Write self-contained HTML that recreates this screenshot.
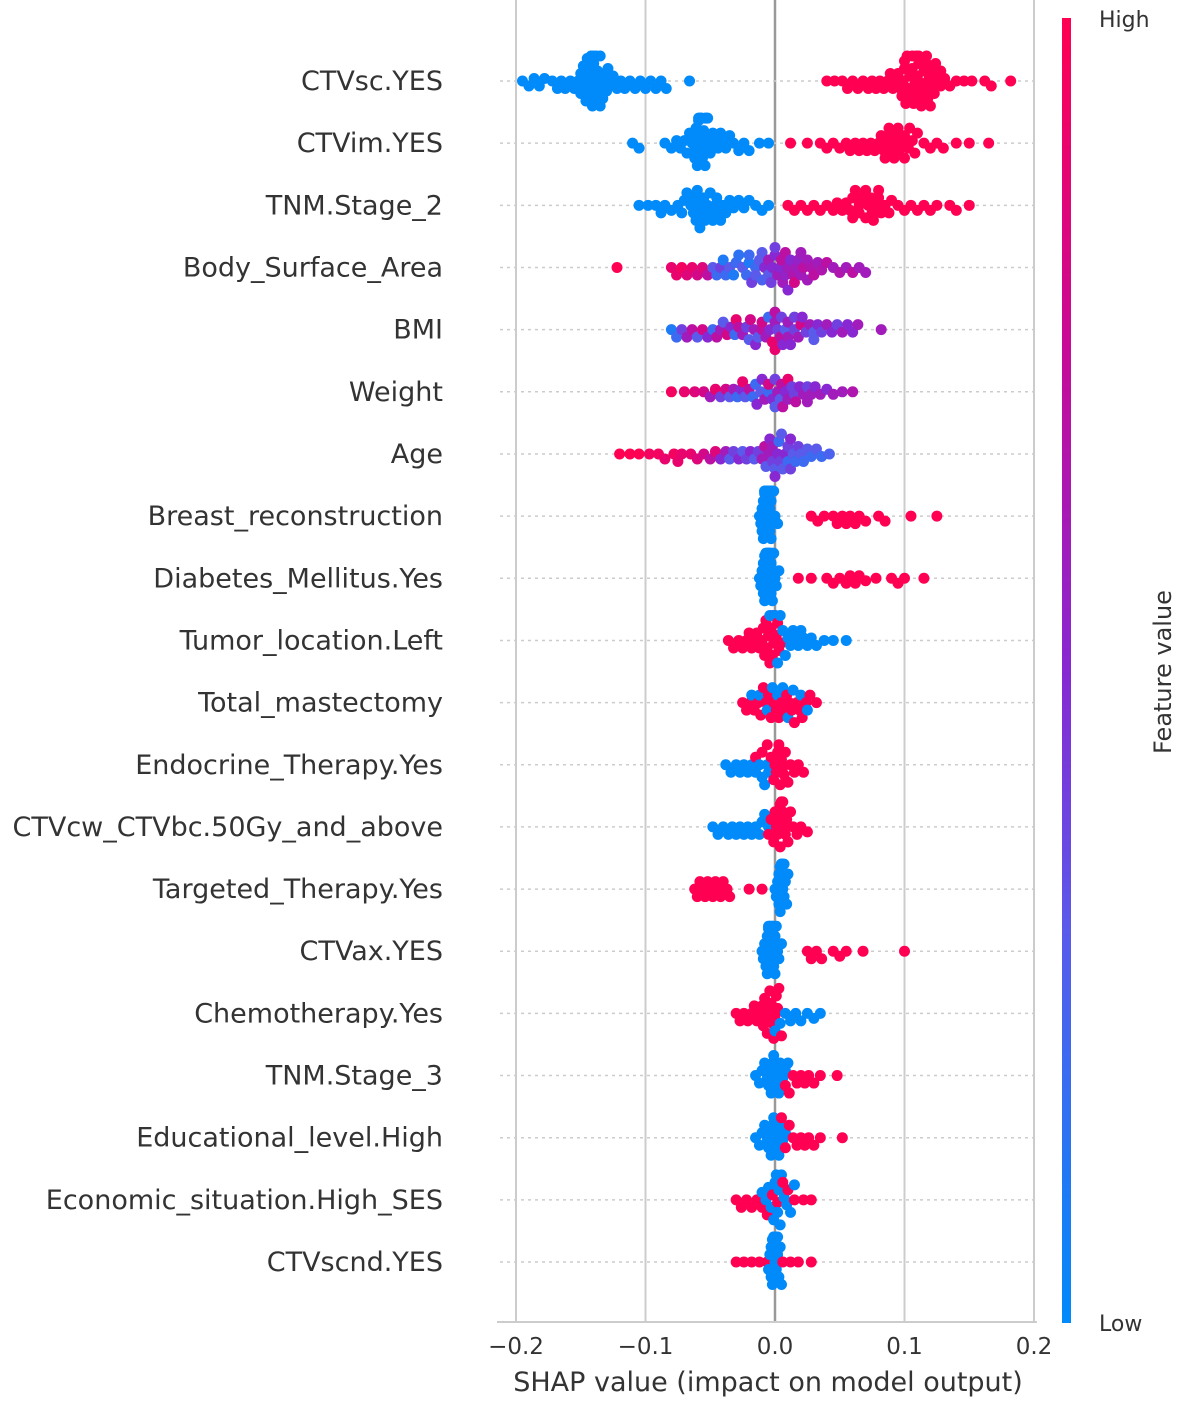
<!DOCTYPE html>
<html><head><meta charset="utf-8">
<style>
html,body{margin:0;padding:0;background:#fff;}
svg{display:block;font-family:"DejaVu Sans","Liberation Sans",sans-serif;}
</style></head>
<body>
<svg id="chart" width="1181" height="1405" viewBox="0 0 1181 1405" xmlns="http://www.w3.org/2000/svg">
<defs>
<linearGradient id="cbar" x1="0" y1="1" x2="0" y2="0">
<stop offset="0" stop-color="rgb(0,138,250)"/>
<stop offset="0.3" stop-color="rgb(90,90,235)"/>
<stop offset="0.5" stop-color="rgb(135,40,210)"/>
<stop offset="0.75" stop-color="rgb(200,10,150)"/>
<stop offset="1" stop-color="rgb(255,0,82)"/>
</linearGradient>
</defs>
<g id="grid"></g>
<g id="rows"></g>
<g id="dots"></g>
<g id="axis"></g>
<rect x="1062" y="18" width="9" height="1305" fill="url(#cbar)"/>
<text x="1099" y="27" font-size="22" fill="#333">High</text>
<text x="1099" y="1331" font-size="22" fill="#333">Low</text>
<text x="0" y="0" font-size="24" fill="#333" text-anchor="middle" transform="translate(1171,672) rotate(-90)">Feature value</text>
<text x="768" y="1391" font-size="27" fill="#333" text-anchor="middle">SHAP value (impact on model output)</text>
</svg>
<script>
const features = ["CTVsc.YES","CTVim.YES","TNM.Stage_2","Body_Surface_Area","BMI","Weight","Age","Breast_reconstruction","Diabetes_Mellitus.Yes","Tumor_location.Left","Total_mastectomy","Endocrine_Therapy.Yes","CTVcw_CTVbc.50Gy_and_above","Targeted_Therapy.Yes","CTVax.YES","Chemotherapy.Yes","TNM.Stage_3","Educational_level.High","Economic_situation.High_SES","CTVscnd.YES"];
const xTicks = [-0.2,-0.1,0.0,0.1,0.2];
const xTickLabels = ["\u22120.2","\u22120.1","0.0","0.1","0.2"];
// SHAP values (thousandths) per feature row
const shapValues = [
[-195,-190,-186,-182,-178,-172,-168,-165,-162,-158,-155,-152,-150,-148,-146,-145,-144,-142,-141,-140,-139,-138,-136,-135,-133,-131,-129,-127,-125,-122,-119,-116,-112,-108,-104,-100,-96,-92,-88,-84,-66,-147,-143,-141,-139,-137,-134,-130,-150,-145,-140,-135,40,46,52,56,60,64,68,72,75,78,81,84,87,89,91,93,95,97,99,100,101,103,104,106,107,109,110,111,113,114,116,117,119,121,123,125,128,131,135,140,146,152,162,167,182,98,102,105,108,110,112,115,118,120,124,100,106,111,117,122,128],
[-110,-105,-85,-80,-76,-73,-70,-68,-66,-64,-62,-61,-60,-59,-58,-57,-56,-55,-54,-53,-52,-51,-50,-48,-46,-44,-42,-40,-38,-35,-32,-28,-24,-20,-12,-5,-62,-60,-58,-56,-54,-57,-59,-53,12,25,35,40,45,50,55,58,62,65,68,71,74,77,80,82,84,86,88,90,92,94,96,98,100,103,106,110,115,120,125,130,140,150,165,85,88,92,95,100,104,108],
[-105,-98,-92,-88,-85,-80,-75,-72,-70,-68,-65,-63,-61,-60,-58,-56,-54,-52,-50,-48,-46,-44,-42,-40,-38,-35,-32,-28,-24,-20,-15,-10,-5,-62,-58,-55,-50,-45,10,15,20,25,30,35,40,45,48,52,55,58,60,62,65,67,70,72,74,76,78,80,82,85,88,90,95,100,105,110,115,120,125,135,140,150,60,65,70,75,80],
[-122,-80,-76,-72,-68,-64,-60,-56,-52,-48,-45,-42,-40,-38,-35,-32,-30,-28,-25,-22,-20,-18,-15,-12,-10,-8,-5,-3,0,2,4,6,8,10,12,14,16,18,20,22,25,28,30,33,36,40,45,50,55,60,65,70,-20,-10,-5,0,5,10,15,20,-15,-2,8,25],
[-80,-76,-72,-68,-64,-60,-56,-52,-48,-45,-42,-40,-37,-34,-31,-28,-25,-22,-19,-16,-13,-10,-7,-4,-2,0,2,4,6,8,10,12,15,18,21,24,27,30,33,36,40,44,48,52,56,60,64,82,-30,-20,-10,-5,0,5,10,20,30,-15,0,15],
[-80,-70,-62,-55,-50,-46,-42,-38,-35,-32,-29,-26,-23,-20,-17,-14,-11,-8,-5,-2,0,2,4,6,8,10,13,16,19,22,25,28,31,35,40,45,52,60,-25,-15,-5,0,5,15,25,-10,10],
[-120,-112,-105,-97,-90,-85,-78,-75,-72,-65,-60,-55,-50,-46,-42,-38,-35,-32,-28,-25,-22,-19,-16,-13,-10,-7,-4,-2,0,2,4,6,8,10,12,14,16,18,20,22,25,28,32,36,42,-5,0,5,10,-8,3,12,-2],
[-12,-11,-10,-10,-9,-9,-8,-8,-8,-7,-7,-7,-6,-6,-6,-6,-5,-5,-5,-5,-4,-4,-4,-4,-3,-3,-3,-2,-2,-1,0,2,28,33,38,45,48,52,55,58,62,65,70,80,85,105,125],
[-12,-11,-10,-9,-9,-8,-8,-7,-7,-6,-6,-6,-5,-5,-5,-5,-4,-4,-4,-3,-3,-3,-2,-2,-1,0,1,3,18,28,40,45,50,55,58,62,65,70,78,90,95,100,115],
[-36,-32,-28,-25,-22,-20,-18,-16,-14,-12,-10,-9,-8,-7,-6,-5,-4,-3,-2,-1,0,1,2,3,5,-4,-2,0,2,4,6,8,10,12,14,16,18,20,22,25,28,32,38,45,55],
[-25,-22,-19,-16,-13,-11,-9,-7,-5,-3,-1,1,3,5,7,9,11,13,15,17,19,21,24,27,32,-18,-12,-6,-2,2,6,10,14,20,25],
[-38,-34,-30,-27,-24,-21,-18,-15,-12,-10,-8,-6,-5,-15,-10,-6,-3,-1,0,1,2,3,4,5,6,7,8,10,12,15,18,22],
[-48,-44,-40,-36,-33,-30,-27,-24,-21,-18,-15,-12,-10,-8,-5,-5,-3,-1,0,1,2,3,4,4,5,5,6,6,7,8,9,10,12,14,17,20,25],
[-62,-60,-58,-56,-54,-52,-50,-48,-46,-44,-42,-40,-37,-35,-20,-10,0,1,2,3,3,4,4,5,5,5,6,6,7,7,8,9,10],
[-10,-9,-8,-7,-6,-6,-5,-5,-4,-4,-3,-3,-2,-2,-1,-1,0,0,1,2,3,5,25,28,32,36,45,50,55,68,100],
[-30,-27,-24,-21,-18,-16,-14,-12,-10,-9,-8,-7,-6,-5,-4,-3,-2,-1,0,1,2,3,5,0,4,8,12,16,20,25,30,35],
[-15,-12,-10,-8,-6,-5,-4,-3,-2,-1,0,1,2,3,4,6,8,10,8,11,14,17,20,23,26,30,35,48],
[-15,-12,-10,-8,-6,-5,-4,-3,-2,-1,0,1,2,3,4,6,8,5,8,11,14,17,20,23,26,30,35,52],
[-30,-26,-22,-18,-14,-10,-6,-2,2,6,10,15,22,28,-10,-7,-5,-3,-1,0,1,2,3,4,5,7,9,12,15],
[-5,-4,-3,-3,-2,-2,-1,-1,0,0,0,1,1,2,2,3,4,5,-30,-24,-18,-12,-6,6,12,18,28]
];
// Feature values (0 = low, 1 = high) per point, parallel to shapValues
const featureValues = [
[0,0,0,0,0,0,0,0,0,0,0,0,0,0,0,0,0,0,0,0,0,0,0,0,0,0,0,0,0,0,0,0,0,0,0,0,0,0,0,0,0,0,0,0,0,0,0,0,0,0,0,0,1,1,1,1,1,1,1,1,1,1,1,1,1,1,1,1,1,1,1,1,1,1,1,1,1,1,1,1,1,1,1,1,1,1,1,1,1,1,1,1,1,1,1,1,1,1,1,1,1,1,1,1,1,1,1,1,1,1,1,1,1,1,1],
[0,0,0,0,0,0,0,0,0,0,0,0,0,0,0,0,0,0,0,0,0,0,0,0,0,0,0,0,0,0,0,0,0,0,0,0,0,0,0,0,0,0,0,0,1,1,1,1,1,1,1,1,1,1,1,1,1,1,1,1,1,1,1,1,1,1,1,1,1,1,1,1,1,1,1,1,1,1,1,1,1,1,1,1,1,1],
[0,0,0,0,0,0,0,0,0,0,0,0,0,0,0,0,0,0,0,0,0,0,0,0,0,0,0,0,0,0,0,0,0,0,0,0,0,0,1,1,1,1,1,1,1,1,1,1,1,1,1,1,1,1,1,1,1,1,1,1,1,1,1,1,1,1,1,1,1,1,1,1,1,1,1,1,1,1,1],
[1,0.9,0.9,0.95,0.85,0.9,0.8,0.85,0.7,0.3,0.2,0.4,0.1,0.2,0.3,0.1,0.2,0.15,0.3,0.2,0.1,0.4,0.2,0.3,0.25,0.5,0.3,0.4,0.5,0.6,0.5,0.6,0.55,0.6,0.5,0.65,0.6,0.55,0.6,0.7,0.6,0.65,0.7,0.6,0.65,0.7,0.6,0.65,0.6,0.7,0.6,0.6,0.2,0.3,0.6,0.4,0.7,0.5,0.8,0.6,0.3,0.5,0.7,0.6],
[0.1,0.2,0.4,0.6,0.7,0.3,0.8,0.5,0.2,0.7,0.6,0.3,0.8,0.5,0.2,0.7,0.6,0.4,0.8,0.6,0.3,0.7,0.6,0.5,0.9,0.6,0.4,0.7,0.5,0.3,0.6,0.5,0.4,0.6,0.5,0.4,0.6,0.3,0.5,0.4,0.6,0.5,0.4,0.6,0.5,0.5,0.6,0.6,0.9,0.3,0.8,0.2,0.7,0.4,0.6,0.8,0.3,0.5,0.9,0.4],
[0.95,0.9,0.85,0.8,0.6,0.9,0.4,0.8,0.3,0.6,0.2,0.5,0.3,0.7,0.2,0.5,0.3,0.6,0.2,0.5,0.4,0.6,0.3,0.7,0.5,0.6,0.4,0.7,0.5,0.6,0.4,0.6,0.5,0.6,0.5,0.6,0.6,0.65,0.9,0.2,0.8,0.3,0.7,0.4,0.6,0.5,0.9],
[1,1,1,0.95,0.95,0.9,0.95,0.9,0.9,0.9,0.85,0.8,0.7,0.85,0.5,0.6,0.3,0.4,0.5,0.3,0.4,0.5,0.3,0.4,0.6,0.3,0.5,0.4,0.3,0.5,0.4,0.3,0.5,0.2,0.4,0.3,0.2,0.4,0.3,0.2,0.3,0.2,0.3,0.2,0.25,0.6,0.5,0.3,0.4,0.7,0.2,0.5,0.6],
[0,0,0,0,0,0,0,0,0,0,0,0,0,0,0,0,0,0,0,0,0,0,0,0,0,0,0,0,0,0,0,0,1,1,1,1,1,1,1,1,1,1,1,1,1,1,1],
[0,0,0,0,0,0,0,0,0,0,0,0,0,0,0,0,0,0,0,0,0,0,0,0,0,0,0,0,1,1,1,1,1,1,1,1,1,1,1,1,1,1,1],
[1,1,1,1,1,1,1,1,1,1,1,1,1,1,1,1,1,1,1,1,1,1,1,1,1,0,0,0,0,0,0,0,0,0,0,0,0,0,0,0,0,0,0,0,0],
[1,1,1,1,1,1,1,1,1,1,1,1,1,1,1,1,1,1,1,1,1,1,1,1,1,0,0,0,0,0,0,0,0,0,0],
[0,0,0,0,0,0,0,0,0,0,0,0,0,1,1,1,1,1,1,1,1,1,1,1,1,1,1,1,1,1,1,1],
[0,0,0,0,0,0,0,0,0,0,0,0,0,0,0,1,1,1,1,1,1,1,1,1,1,1,1,1,1,1,1,1,1,1,1,1,1],
[1,1,1,1,1,1,1,1,1,1,1,1,1,1,1,1,0,0,0,0,0,0,0,0,0,0,0,0,0,0,0,0,0],
[0,0,0,0,0,0,0,0,0,0,0,0,0,0,0,0,0,0,0,0,0,0,1,1,1,1,1,1,1,1,1],
[1,1,1,1,1,1,1,1,1,1,1,1,1,1,1,1,1,1,1,1,1,1,1,0,0,0,0,0,0,0,0,0],
[0,0,0,0,0,0,0,0,0,0,0,0,0,0,0,0,0,0,1,1,1,1,1,1,1,1,1,1],
[0,0,0,0,0,0,0,0,0,0,0,0,0,0,0,0,0,1,1,1,1,1,1,1,1,1,1,1],
[1,1,1,1,1,1,1,1,1,1,1,1,1,1,0,0,0,0,0,0,0,0,0,0,0,0,0,0,0],
[0,0,0,0,0,0,0,0,0,0,0,0,0,0,0,0,0,0,1,1,1,1,1,1,1,1,1]
];

const NS="http://www.w3.org/2000/svg";
const x0=775, pxPerUnit=1295;
const xScale=v=>x0+v*pxPerUnit;
const rowTop=81, rowStep=62.16;
const yScale=i=>rowTop+i*rowStep;
const axisY=1322;
function mk(tag,attrs,parent){const e=document.createElementNS(NS,tag);for(const k in attrs)e.setAttribute(k,attrs[k]);parent.appendChild(e);return e;}
function lerp(a,b,t){return a+(b-a)*t;}
const stops=[[0,[0,138,250]],[0.3,[90,90,235]],[0.5,[135,40,210]],[0.75,[200,10,150]],[1,[255,0,82]]];
function colorFor(t){for(let i=1;i<stops.length;i++){if(t<=stops[i][0]){const a=stops[i-1],b=stops[i];const u=(t-a[0])/(b[0]-a[0]);return `rgb(${Math.round(lerp(a[1][0],b[1][0],u))},${Math.round(lerp(a[1][1],b[1][1],u))},${Math.round(lerp(a[1][2],b[1][2],u))})`;}}return "rgb(255,0,82)";}

const grid=document.getElementById('grid'), rows=document.getElementById('rows'), dots=document.getElementById('dots'), axis=document.getElementById('axis');
xTicks.forEach((t,i)=>{
  const gl=mk('line',{x1:xScale(t),x2:xScale(t),y1:0,y2:axisY,stroke:t===0?'#999':'#ccc','stroke-width':t===0?2.5:2},grid);
  
  
  const tk=mk('text',{x:xScale(t),y:1354,'font-size':23,fill:'#333','text-anchor':'middle'},axis);
  tk.textContent=xTickLabels[i];
  
  
});
const al=mk('line',{x1:497,x2:1037,y1:axisY,y2:axisY,stroke:'#ccc','stroke-width':2},axis);



const R=5.5, D=7.5, STEP=2.5, MAXO=26;
features.forEach((f,i)=>{
  const y=yScale(i);
  const dl=mk('line',{x1:500,x2:1037,y1:y,y2:y,stroke:'#ccc','stroke-width':1.5,'stroke-dasharray':'3,4'},rows);
  
  
  const lb=mk('text',{x:443,y:y+9,'font-size':27,fill:'#333','text-anchor':'end'},rows);
  lb.textContent=f;
  
  
  const vals=shapValues[i].map(v=>v/1000), cols=featureValues[i];
  const idx=vals.map((v,k)=>k).sort((a,b)=>vals[a]-vals[b]);
  const placed=[];
  idx.forEach(k=>{
    const px=xScale(vals[k]);
    let best=0;
    for(let s=0;s<=MAXO/STEP;s++){
      let found=false;
      for(const sg of (s===0?[1]:[1,-1])){
        const o=sg*s*STEP;
        if(placed.every(p=>Math.abs(p[0]-px)>=D||Math.hypot(p[0]-px,p[1]-o)>=D)){best=o;found=true;break;}
      }
      if(found)break;
      best=(s%2?1:-1)*s*STEP;
    }
    placed.push([px,best,k]);
  });
  placed.forEach(p=>{
    const c=mk('circle',{cx:p[0],cy:y+p[1],r:R,fill:colorFor(cols[p[2]])},dots);
    
    
  });
});
</script>
</body></html>
